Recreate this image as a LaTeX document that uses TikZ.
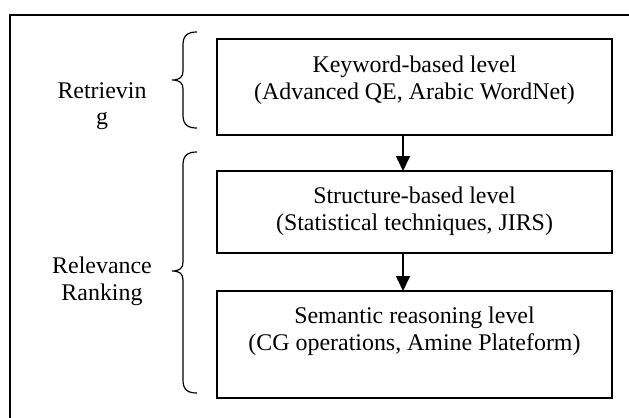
\documentclass[tikz,border=0pt]{standalone}
\usepackage{fontspec}
\setmainfont{Liberation Serif}
\usetikzlibrary{arrows.meta,calc}
\begin{document}
\begin{tikzpicture}[x=1bp,y=-1bp,
  box/.style={draw,line width=1.6bp,minimum width=395bp,inner sep=0pt,outer sep=0pt},
  txt/.style={align=center,inner sep=0pt,font=\fontsize{24}{27}\selectfont},
  brace/.style={line width=1.2bp},
  arr/.style={line width=1.6bp,-{Triangle[length=15bp,width=14bp]}}]
\useasboundingbox (0,0) rectangle (629,417);
\begin{scope}
\clip (0,0) rectangle (629,417);
\draw[line width=1.6bp] (10,450) -- (10,15) -- (660,15);
\end{scope}
% boxes
\node[box,minimum height=96bp] (k) at (414.5,87) {};
\node[box,minimum height=82bp] (s) at (414.5,212) {};
\node[box,minimum height=107bp] (m) at (414.5,344.5) {};
% box texts
\node[txt,anchor=north] (kt) at ($(k.north)+(0,16.6)$) {Keyword-based level\\(Advanced QE, Arabic WordNet)};
\node[txt,anchor=north] (st) at ($(s.north)+(0,15.6)$) {Structure-based level\\(Statistical techniques, JIRS)};
\node[txt,anchor=north] (mt) at ($(m.north)+(0,15.6)$) {Semantic reasoning level\\(CG operations, Amine Plateform)};
% arrows
\coordinate (ax) at (403,0);
\draw[arr] (k.south -| ax) -- (s.north -| ax);
\draw[arr] (s.south -| ax) -- (m.north -| ax);
% left labels
\node[txt,anchor=north] (ret) at (102,82) {Retrievin\\g};
\node[txt,anchor=north] (rel) at (102,257) {Relevance\\Ranking};
% braces
\draw[brace] (197,32) .. controls (188,32) and (183,35) .. (183,45)
  -- (183,71) .. controls (183,77) and (180,80) .. (172,80)
  .. controls (180,80) and (183,83) .. (183,89)
  -- (183,115) .. controls (183,125) and (188,128) .. (197,128);
\draw[brace] (197,152) .. controls (188,152) and (183,155) .. (183,165)
  -- (183,262) .. controls (183,268) and (180,271) .. (172,271)
  .. controls (180,271) and (183,274) .. (183,280)
  -- (183,380) .. controls (183,390) and (188,393) .. (197,393);
\end{tikzpicture}
\end{document}
